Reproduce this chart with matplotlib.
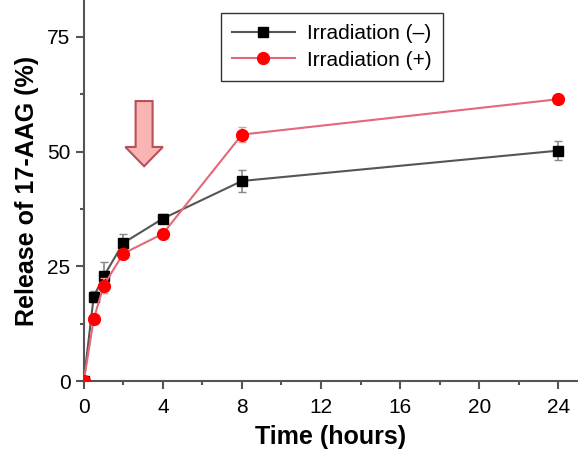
import matplotlib.pyplot as plt
from matplotlib.patches import FancyArrow
from matplotlib.ticker import MultipleLocator

plt.rcParams['font.family'] = ['Liberation Sans', 'DejaVu Sans']

# release data
time_h = [0, 0.5, 1, 2, 4, 8, 24]
release_off = [0, 18.4, 22.8, 30.1, 35.4, 43.6, 50.2]
err_off = [0, 1.2, 3.2, 2.0, 1.0, 2.3, 2.0]
release_on = [0, 13.5, 20.8, 27.8, 32.1, 53.7, 61.4]
err_on = [0, 1.0, 1.6, 1.0, 0.8, 1.7, 0.8]

fig = plt.figure(figsize=(5.78, 4.49), dpi=100)
ax = fig.add_axes([0.145, 0.151, 0.855, 0.849])

eb1 = ax.errorbar(time_h, release_off, yerr=err_off, color='#555555', lw=1.5,
                  marker='s', ms=7.5, mfc='black', mec='black', ecolor='#888888',
                  elinewidth=1.2, capsize=3, zorder=3)
eb2 = ax.errorbar(time_h, release_on, yerr=err_on, color='#e46878', lw=1.5,
                  marker='o', ms=8.5, mfc='#ff0000', mec='#ff0000', ecolor='#e99',
                  elinewidth=1.2, capsize=3, zorder=4)

# arrow marking the irradiation
ax.add_patch(FancyArrow(3.05, 61, 0, -14.2, width=0.86, head_width=1.9,
                        head_length=4.2, length_includes_head=True,
                        fc='#f9b4b4', ec='#b8505a', lw=1.5, zorder=2))

ax.set_xlim(0, 25)
ax.set_ylim(0, 83)
ax.set_xticks([0, 4, 8, 12, 16, 20, 24])
ax.xaxis.set_minor_locator(MultipleLocator(2))
ax.set_yticks([0, 25, 50, 75])
ax.yaxis.set_minor_locator(MultipleLocator(12.5))
ax.spines['top'].set_visible(False)
ax.spines['right'].set_visible(False)
for s in ['left', 'bottom']:
    ax.spines[s].set_color('#555555')
    ax.spines[s].set_linewidth(1.5)
ax.tick_params(which='major', length=6, width=1.5, color='#555555', labelsize=15)
ax.tick_params(axis='x', which='major', pad=6)
ax.tick_params(which='minor', length=3, width=1.5, color='#555555')

ax.set_xlabel('Time (hours)', fontsize=18, fontweight='bold', labelpad=6)
ax.set_ylabel('Release of 17-AAG (%)', fontsize=18, fontweight='bold', labelpad=6)

leg = ax.legend([eb1[0], eb2[0]], ['Irradiation (–)', 'Irradiation (+)'],
                loc='upper center', bbox_to_anchor=(0.502, 0.966), fontsize=15,
                frameon=True, fancybox=False, edgecolor='black',
                handlelength=3.0, borderpad=0.55, labelspacing=0.35,
                handletextpad=0.6, borderaxespad=0)
leg.get_frame().set_linewidth(1.0)

fig.savefig('out.png', dpi=100)
